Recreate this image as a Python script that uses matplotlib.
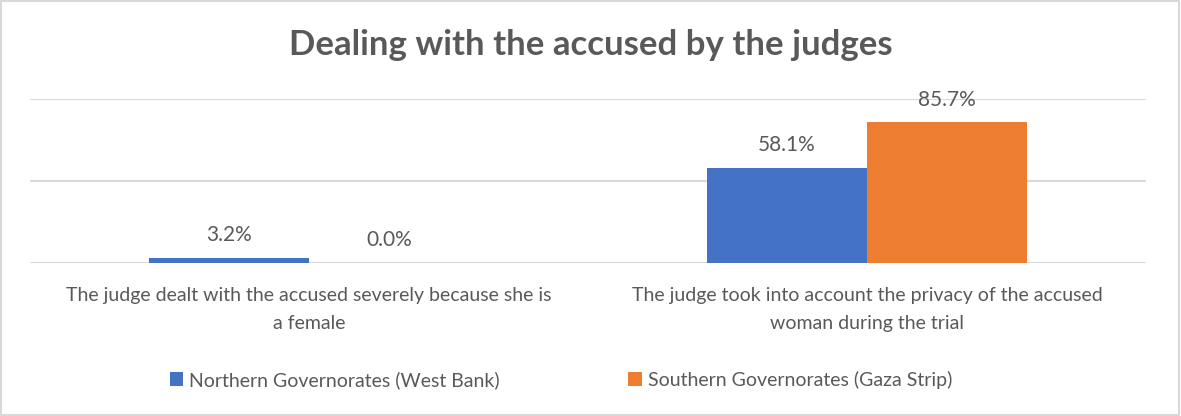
import matplotlib.pyplot as plt
import numpy as np
from matplotlib.patches import Rectangle

categories = ["The judge dealt with the accused severely because she is\na female",
              "The judge took into account the privacy of the accused\nwoman during the trial"]
series_names = ["Northern Governorates (West Bank)", "Southern Governorates (Gaza Strip)"]
north = [3.2, 58.1]
south = [0.0, 85.7]
colors = ["#4472C4", "#ED7D31"]

plt.rcParams['font.family'] = ['Lato', 'DejaVu Sans']
txt = "#595959"

fig = plt.figure(figsize=(11.81, 4.16), dpi=100)
ax = fig.add_axes([30 / 1181, 1 - 263 / 416, 1116 / 1181, 164 / 416])

x = np.arange(len(categories))
w = 0.287
for i, (vals, name) in enumerate(zip([north, south], series_names)):
    bars = ax.bar(x + (i - 0.5) * w, vals, w, color=colors[i], label=name, zorder=3)
    for b, v in zip(bars, vals):
        ax.annotate(f"{v:.1f}%", (b.get_x() + b.get_width() / 2, v),
                    xytext=(0, 9), textcoords="offset points",
                    ha="center", va="bottom", fontsize=15, color=txt)

ax.set_xlim(-0.5, 1.5)
ax.set_ylim(0, 100)
ax.set_yticks([0, 50, 100])
ax.yaxis.grid(True, color="#D9D9D9", linewidth=1.5, zorder=0)
ax.tick_params(axis="y", length=0, labelleft=False)
ax.tick_params(axis="x", length=0, pad=17)
ax.set_xticks(x)
ax.set_xticklabels(categories, fontsize=14, color=txt, linespacing=1.8)
for s in ax.spines.values():
    s.set_visible(False)

fig.text(0.5, 1 - 45 / 416, "Dealing with the accused by the judges", ha="center", va="center",
         fontsize=25, fontweight="bold", color=txt)

fig.legend(loc="center", bbox_to_anchor=(561 / 1181, 1 - 380 / 416), ncol=2, frameon=False,
           fontsize=14, labelcolor=txt, handlelength=0.7, handleheight=0.7,
           handletextpad=0.3, columnspacing=6.6)

fig.patches.append(Rectangle((0.001, 0.002), 0.997, 0.995, transform=fig.transFigure,
                             fill=False, edgecolor="#D9D9D9", linewidth=1.5))

fig.savefig("out.png", dpi=100)
